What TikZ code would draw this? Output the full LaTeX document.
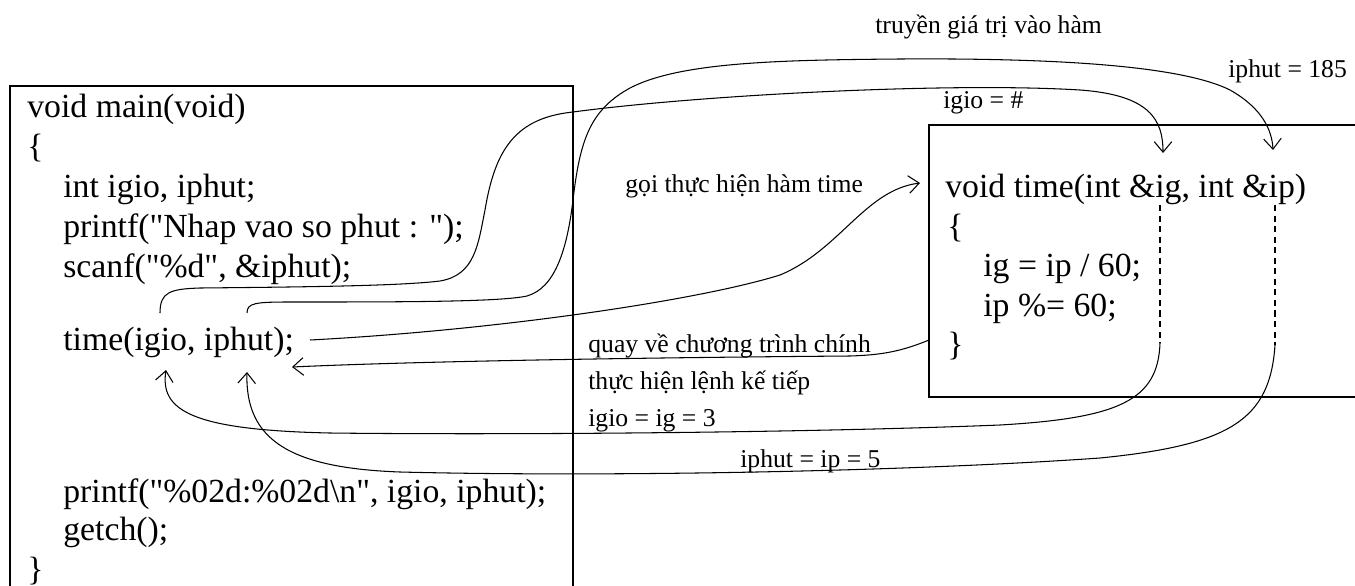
\documentclass[tikz,border=0pt]{standalone}
\usepackage{fontspec}
\setmainfont{Liberation Serif}[Ligatures=TeXOff]
\usepackage{tikz}
\usetikzlibrary{arrows.meta}

\begin{document}
\begin{tikzpicture}[
        x=0.02cm, y=-0.02cm,
        every node/.style={inner sep=0pt, anchor=base west},
        codeline/.style={font=\fontsize{19.2}{22}\selectfont},
        msg/.style={font=\fontsize{14.6}{17}\selectfont},
        boxline/.style={draw, line width=1.1pt},
        link/.style={draw, line width=0.6pt},
        flow/.style={link, -{Straight Barb[length=6pt,width=10pt]}},
        guide/.style={draw, line width=0.6pt, dash pattern=on 3.5pt off 2.5pt}
        ]
        \useasboundingbox (0,0) rectangle (1355,585);

        % Main program
        \draw[boxline] (10,590) -- (10,86) -- (573,86) -- (573,590);
        \node[codeline] (mainhead) at (27,117) {void main(void)};
        \node[codeline] (lbrace1) at (27,157) {\{};
        \node[codeline] (decl) at (63,197) {int igio, iphut;};
        \node[codeline] (prompt) at (63,237) {printf("Nhap vao so phut : ");};
        \node[codeline] (read) at (63,277) {scanf("\%d", \&iphut);};
        \node[codeline] (call) at (63,350) {time(igio, iphut);};
        \node[codeline] (show) at (63,502) {printf("\%02d:\%02d\textbackslash n", igio, iphut);};
        \node[codeline] (wait) at (63,540) {getch();};
        \node[codeline] (rbrace1) at (27,580) {\}};

        % Function time
        \draw[boxline] (1360,125) -- (929,125) -- (929,397) -- (1360,397);
        \node[codeline] (fnhead) at (945,197) {void time(int \&ig, int \&ip)};
        \node[codeline] (lbrace2) at (947,237) {\{};
        \node[codeline] (stmt1) at (983,276) {ig = ip / 60;};
        \node[codeline] (stmt2) at (983,316) {ip \%= 60;};
        \node[codeline] (rbrace2) at (947,355) {\}};

        % Labels
        \node[msg] (passlbl) at (875,33) {truyền giá trị vào hàm};
        \node[msg] (iphutin) at (1228,77) {iphut = 185};
        \node[msg] (igioin) at (943,108) {igio = \#};
        \node[msg] (calllbl) at (625,192) {gọi thực hiện hàm time};
        \node[msg] (backlbl) at (588,352) {quay về chương trình chính};
        \node[msg] (nextlbl) at (588,389) {thực hiện lệnh kế tiếp};
        \node[msg] (igioout) at (588,426) {igio = ig = 3};
        \node[msg] (iphutout) at (740,467) {iphut = ip = 5};

        % Anchor points on the code
        \coordinate (igio-arg) at (160,313);
        \coordinate (iphut-arg) at (247,313);
        \coordinate (igio-back) at (166,370);
        \coordinate (iphut-back) at (247,372);
        \coordinate (call-end) at (310,340);
        \coordinate (call-back) at (292,367);
        \coordinate (fn-entry) at (920,183);
        \coordinate (fn-exit) at (929,340);
        \coordinate (ig-in) at (1163,153);
        \coordinate (ip-in) at (1273,150);
        \coordinate (ig-top) at (1160,205);
        \coordinate (ig-bot) at (1160,343);
        \coordinate (ip-top) at (1275,205);
        \coordinate (ip-bot) at (1275,345);

        % Values passed in
        \draw[flow] (igio-arg) .. controls (160,292) and (170,289) .. (200,288)
            .. controls (300,287) and (400,286) .. (440,281)
            .. controls (475,275) and (478,245) .. (485,210)
            .. controls (495,150) and (515,118) .. (573,112)
            .. controls (700,95) and (950,82) .. (1080,90)
            .. controls (1150,95) and (1163,120) .. (ig-in);
        \draw[flow] (iphut-arg) .. controls (247,303) and (255,302) .. (290,302)
            .. controls (400,302) and (500,302) .. (527,296)
            .. controls (555,288) and (567,250) .. (573,200)
            .. controls (580,140) and (590,110) .. (630,88)
            .. controls (680,62) and (780,60) .. (900,59)
            .. controls (1050,58) and (1180,65) .. (1230,90)
            .. controls (1262,108) and (1272,130) .. (ip-in);

        % Call and return
        \draw[flow] (call-end) .. controls (500,330) and (700,300) .. (780,275)
            .. controls (840,250) and (865,190) .. (fn-entry);
        \draw[flow] (fn-exit) .. controls (900,352) and (880,355) .. (850,356)
            .. controls (600,358) and (400,362) .. (call-back);

        % References
        \draw[guide] (ig-top) -- (ig-bot);
        \draw[guide] (ip-top) -- (ip-bot);
        \draw[flow] (ig-bot) .. controls (1158,400) and (1120,418) .. (1000,425)
            .. controls (800,433) and (500,435) .. (330,433)
            .. controls (190,430) and (160,410) .. (igio-back);
        \draw[flow] (ip-bot) .. controls (1270,420) and (1230,445) .. (1100,458)
            .. controls (900,472) and (600,477) .. (400,472)
            .. controls (290,468) and (245,440) .. (iphut-back);
\end{tikzpicture}
\end{document}
